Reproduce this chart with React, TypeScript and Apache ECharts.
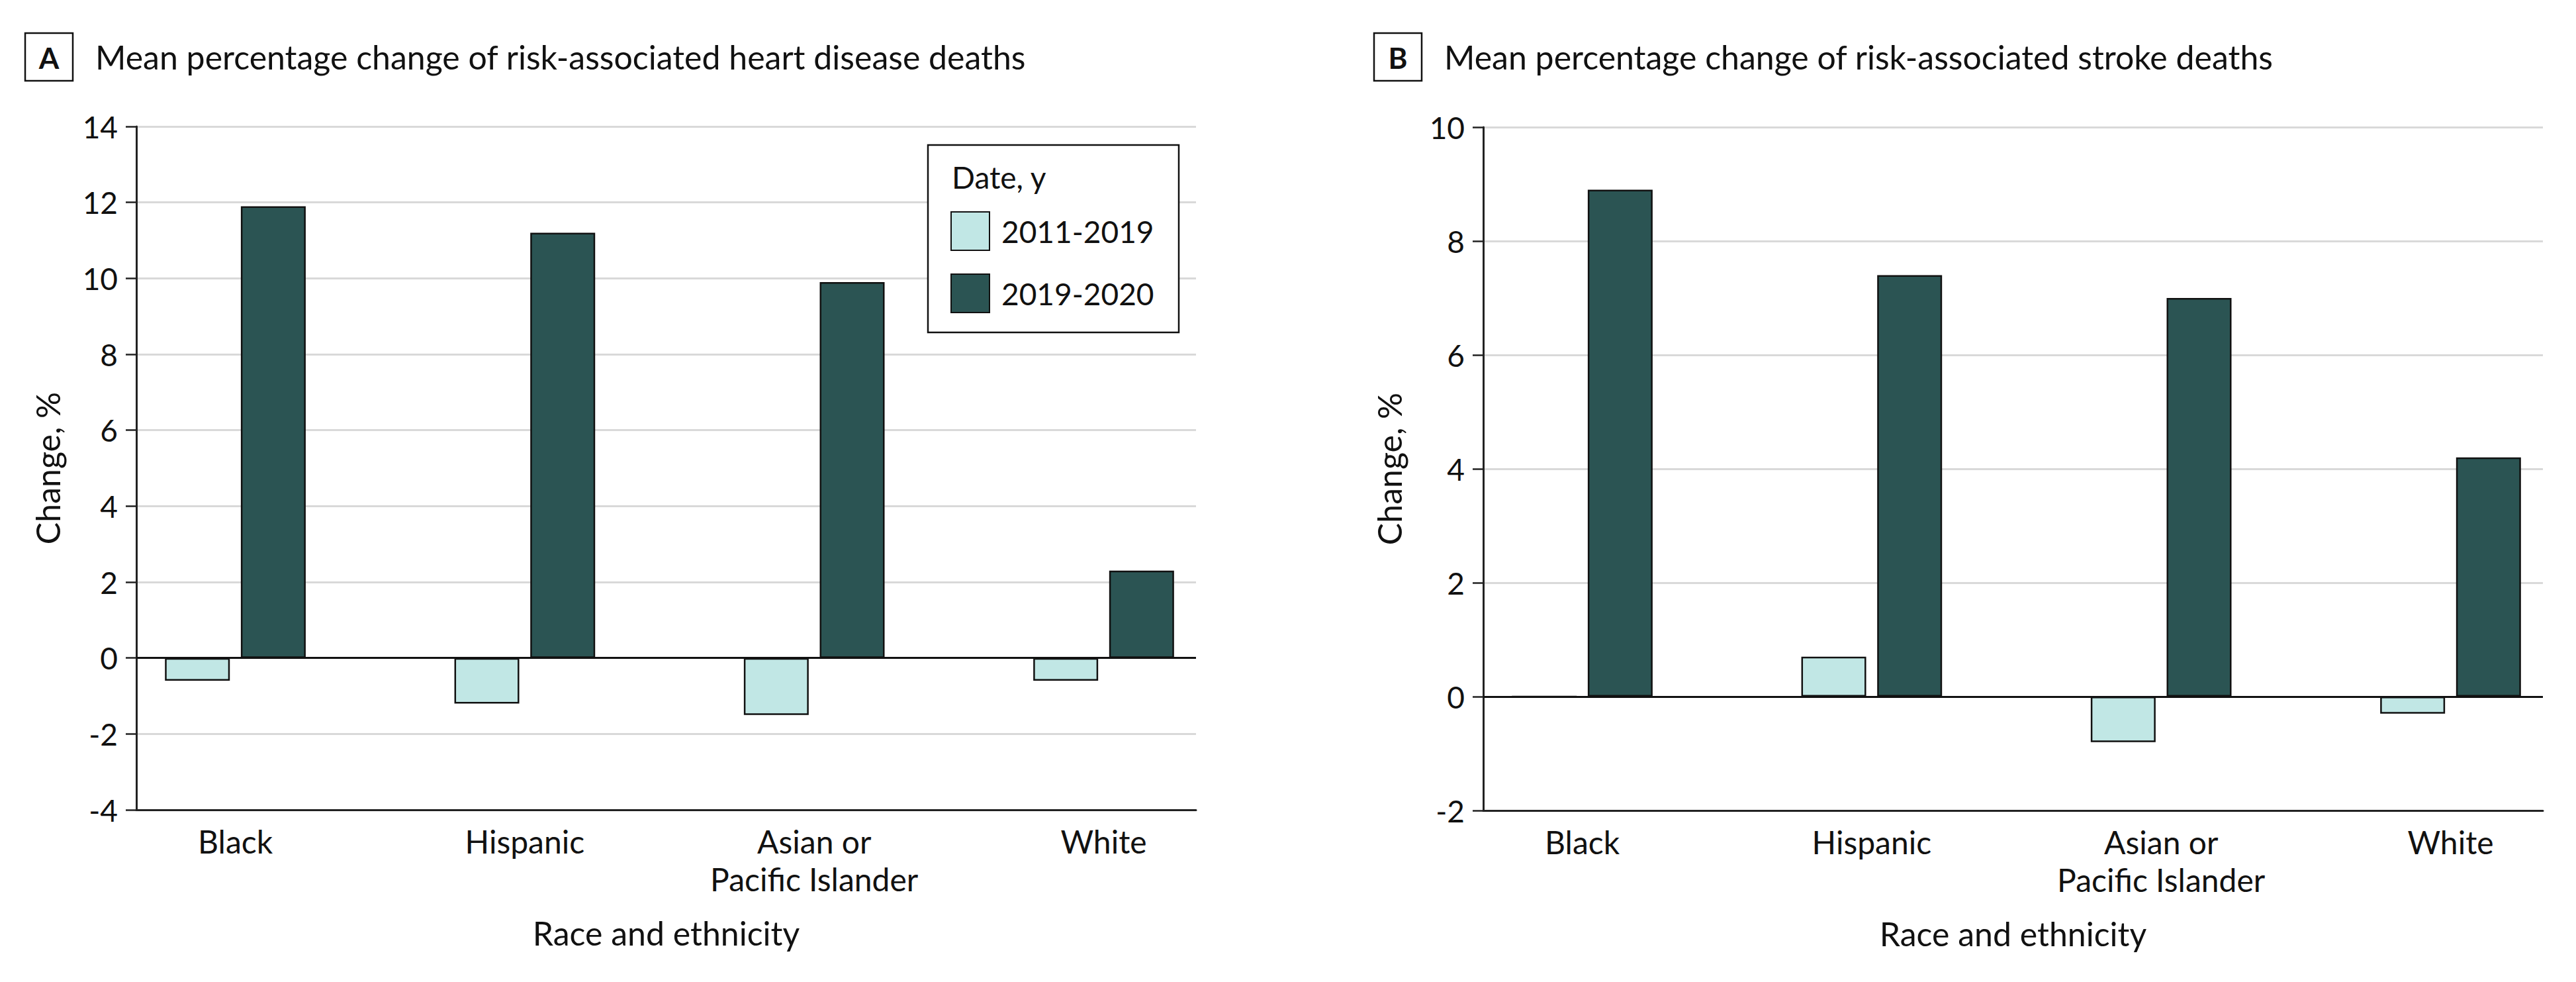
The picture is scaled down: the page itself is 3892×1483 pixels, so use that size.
import React, { useEffect, useRef } from "react";
import * as echarts from "echarts";

// ---- data ----
const categories = ["Black", "Hispanic", "Asian or\nPacific Islander", "White"];
const seriesNames = ["2011-2019", "2019-2020"];
const heartPre = [-0.6, -1.2, -1.5, -0.6];
const heartPost = [11.9, 11.2, 9.9, 2.3];
const strokePre = [0, 0.7, -0.8, -0.3];
const strokePost = [8.9, 7.4, 7.0, 4.2];
const heartTicks = [-4, -2, 0, 2, 4, 6, 8, 10, 12, 14];
const strokeTicks = [-2, 0, 2, 4, 6, 8, 10];
const titleA = "Mean percentage change of risk-associated heart disease deaths";
const titleB = "Mean percentage change of risk-associated stroke deaths";
const xName = "Race and ethnicity";
const yName = "Change, %";
const legendTitle = "Date, y";

const FONT = "Lato";
const LIGHT = "#c1e7e5";
const DARK = "#2b5453";
const INK = "#111111";

function xAxisFor(gridIndex: number) {
  return {
    type: "value",
    gridIndex,
    min: -0.342,
    max: 3.319,
    axisLine: { show: true, onZero: false, lineStyle: { color: "#222", width: 3 } },
    axisTick: { show: false },
    splitLine: { show: false },
    axisLabel: {
      customValues: [0, 1, 2, 3],
      formatter: (v: number) => categories[Math.round(v)] ?? "",
      fontSize: 48,
      lineHeight: 57,
      margin: 19,
      color: INK,
      fontFamily: FONT,
    },
    name: xName,
    nameLocation: "middle",
    nameGap: 161,
    nameTextStyle: { fontSize: 50, color: INK, fontFamily: FONT },
  };
}

function yAxisFor(gridIndex: number, ticks: number[], gap: number) {
  return {
    type: "value",
    gridIndex,
    min: ticks[0],
    max: ticks[ticks.length - 1],
    interval: ticks[1] - ticks[0],
    axisLine: { show: true, onZero: false, lineStyle: { color: "#222", width: 3 } },
    axisTick: { show: true, inside: false, length: 16, lineStyle: { color: "#222", width: 2.5 } },
    splitLine: { show: true, lineStyle: { color: "#d9d9d9", width: 3 } },
    axisLabel: { fontSize: 46, margin: 28, color: INK, fontFamily: FONT },
    name: yName,
    nameLocation: "middle",
    nameGap: gap,
    nameTextStyle: { fontSize: 50, color: INK, fontFamily: FONT },
  };
}

function barSeries(name: string, values: number[], idx: number, color: string, withZero: boolean) {
  return {
    type: "bar",
    name,
    xAxisIndex: idx,
    yAxisIndex: idx,
    barWidth: 98,
    barGap: "17%",
    data: values.map((v, i) => [i, v]),
    itemStyle: { color, borderColor: INK, borderWidth: 2.5 },
    markLine: withZero
      ? {
          silent: true,
          symbol: "none",
          label: { show: false },
          lineStyle: { color: INK, width: 3, type: "solid" },
          data: [{ yAxis: 0 }],
          z: 5,
        }
      : undefined,
  };
}

function panelHeader(letter: string, boxX: number, title: string, titleX: number) {
  return [
    {
      type: "rect",
      shape: { x: boxX, y: 50, width: 72, height: 72 },
      style: { fill: "#fff", stroke: INK, lineWidth: 2.5 },
    },
    {
      type: "text",
      x: boxX + 36,
      y: 87,
      style: {
        text: letter,
        fontSize: 44,
        fontWeight: "bold",
        fontFamily: FONT,
        fill: INK,
        align: "center",
        verticalAlign: "middle",
      },
    },
    {
      type: "text",
      x: titleX,
      y: 86,
      style: {
        text: title,
        fontSize: 50,
        fontFamily: FONT,
        fill: INK,
        align: "left",
        verticalAlign: "middle",
      },
    },
  ];
}

export default function App() {
  const ref = useRef<HTMLDivElement>(null);
  useEffect(() => {
    if (!ref.current) return;
    const chart = echarts.init(ref.current, undefined, { renderer: "svg" });
    const option: any = {
      animation: false,
      backgroundColor: "#ffffff",
      textStyle: { fontFamily: FONT },
      grid: [
        { left: 206, top: 191, width: 1601, height: 1032, containLabel: false },
        { left: 2241, top: 192, width: 1601, height: 1032, containLabel: false },
      ],
      xAxis: [xAxisFor(0), xAxisFor(1)],
      yAxis: [yAxisFor(0, heartTicks, 109), yAxisFor(1, strokeTicks, 117)],
      legend: {
        show: true,
        data: seriesNames,
        orient: "vertical",
        left: 1436,
        top: 319,
        itemWidth: 58,
        itemHeight: 58,
        itemGap: 34,
        padding: 0,
        icon: "rect",
        z: 20,
        textStyle: { fontSize: 46, color: INK, fontFamily: FONT, padding: [0, 0, 0, 13] },
      },
      graphic: [
        ...panelHeader("A", 38, titleA, 144),
        ...panelHeader("B", 2076, titleB, 2182),
        {
          type: "rect",
          z: 10,
          shape: { x: 1402, y: 219, width: 379, height: 283 },
          style: { fill: "#fff", stroke: INK, lineWidth: 2.5 },
        },
        {
          type: "text",
          z: 11,
          x: 1438,
          y: 267,
          style: {
            text: legendTitle,
            fontSize: 46,
            fontFamily: FONT,
            fill: INK,
            align: "left",
            verticalAlign: "middle",
          },
        },
      ],
      series: [
        barSeries(seriesNames[0], heartPre, 0, LIGHT, false),
        barSeries(seriesNames[1], heartPost, 0, DARK, true),
        barSeries(seriesNames[0], strokePre, 1, LIGHT, false),
        barSeries(seriesNames[1], strokePost, 1, DARK, true),
      ],
    };
    chart.setOption(option);
    return () => chart.dispose();
  }, []);
  return (
    <div
      ref={ref}
      style={{ position: "fixed", left: 0, top: 0, width: 3892, height: 1483, background: "#fff" }}
    />
  );
}
